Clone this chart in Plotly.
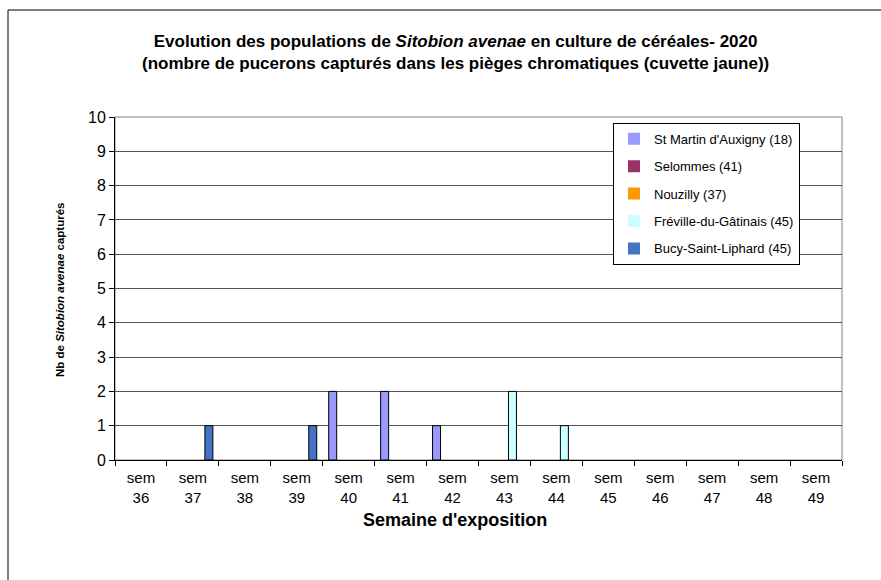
import plotly.graph_objects as go

weeks = ["sem<br>%d" % w for w in range(36, 50)]
series_names = ["St Martin d'Auxigny (18)", "Selommes (41)", "Nouzilly (37)",
                "Fréville-du-Gâtinais (45)", "Bucy-Saint-Liphard (45)"]
st_martin = [0, 0, 0, 0, 2, 2, 1, 0, 0, 0, 0, 0, 0, 0]
selommes = [0, 0, 0, 0, 0, 0, 0, 0, 0, 0, 0, 0, 0, 0]
nouzilly = [0, 0, 0, 0, 0, 0, 0, 0, 0, 0, 0, 0, 0, 0]
freville = [0, 0, 0, 0, 0, 0, 0, 2, 1, 0, 0, 0, 0, 0]
bucy = [0, 1, 0, 1, 0, 0, 0, 0, 0, 0, 0, 0, 0, 0]
colors = ["#9999FF", "#993366", "#FF9900", "#CCFFFF", "#4472C4"]

FONT = "Liberation Sans, Arial, sans-serif"

fig = go.Figure()
for i, (name, vals) in enumerate(zip(series_names,
                                     [st_martin, selommes, nouzilly, freville, bucy])):
    fig.add_trace(go.Bar(
        x=weeks, y=vals, name=name, legendgroup="g%d" % i,
        marker=dict(color=colors[i],
                    line=dict(color="#000000",
                              width=[1 if v else 0 for v in vals])),
    ))

fig.update_layout(
    width=881, height=580,
    margin=dict(l=115, r=39, t=117, b=120),
    paper_bgcolor="white", plot_bgcolor="white",
    barmode="group", bargap=0.23, bargroupgap=0,
    font=dict(family=FONT, color="#000000"),
    legend=dict(
        x=0.685, y=0.983, xanchor="left", yanchor="top",
        bgcolor="white", bordercolor="#000000", borderwidth=1,
        font=dict(family=FONT, size=13, color="#000000"),
        tracegroupgap=7.5, itemwidth=30,
    ),
    showlegend=True,
)

fig.update_xaxes(
    type="category", tickson="boundaries", ticks="outside", ticklen=5,
    tickcolor="#000000", showline=True, linecolor="#000000", linewidth=1,
    mirror=False, showgrid=False, ticklabelstandoff=4,
    tickfont=dict(family=FONT, size=15, color="#000000"),
)
fig.update_yaxes(
    range=[0, 10], dtick=1, ticks="outside", ticklen=5, tickcolor="#000000",
    showline=True, linecolor="#000000", linewidth=1,
    showgrid=True, gridcolor="#555555", gridwidth=1,
    tickfont=dict(family=FONT, size=16, color="#000000"),
    zeroline=False,
)

# plot-area border (right/top in grey)
fig.add_shape(type="rect", xref="paper", yref="paper", x0=0, x1=1, y0=0, y1=1,
              line=dict(color="#808080", width=1), layer="below")
# outer chart frame
fig.add_shape(type="rect", xref="paper", yref="paper",
              x0=(8 - 115) / 727, x1=1.2, y0=-0.6, y1=(460 - 10) / 343,
              line=dict(color="#000000", width=1))

title_text = ("Evolution des populations de <i>Sitobion avenae</i> en culture de céréales- 2020<br>"
              "(nombre de pucerons capturés dans les pièges chromatiques (cuvette jaune))")
fig.add_annotation(
    text=title_text, xref="paper", yref="paper",
    x=(455 - 115) / 727, y=(460 - 53) / 343,
    showarrow=False, xanchor="center", yanchor="middle",
    font=dict(family=FONT, size=17, color="#000000", weight="bold"),
)

fig.add_annotation(
    text="Nb de <i>Sitobion avenae</i> capturés", textangle=-90,
    xref="paper", yref="paper", x=(60 - 115) / 727, y=(460 - 290) / 343,
    showarrow=False, xanchor="center", yanchor="middle",
    font=dict(family=FONT, size=11.5, color="#000000", weight="bold"),
)
fig.add_annotation(
    text="Semaine d'exposition",
    xref="paper", yref="paper", x=(455 - 115) / 727, y=(460 - 520) / 343,
    showarrow=False, xanchor="center", yanchor="middle",
    font=dict(family=FONT, size=18, color="#000000", weight="bold"),
)

fig.write_html("out.html", config={"displayModeBar": False},
               post_script="document.body.style.margin='0';document.body.style.overflow='hidden';")
